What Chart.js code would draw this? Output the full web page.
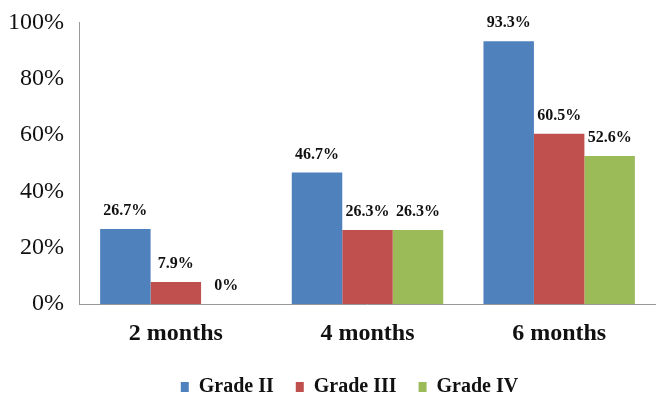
<!DOCTYPE html>
<html>
<head>
<meta charset="utf-8">
<script src="https://cdn.jsdelivr.net/npm/chart.js@4/dist/chart.umd.min.js"></script>
<style>
  body { margin: 0; background: #fff; }
</style>
</head>
<body>
<canvas id="myChart" width="660" height="393"></canvas>
<script>
const categories = ["2 months", "4 months", "6 months"];
const gradeII = [26.7, 46.7, 93.3];
const gradeIII = [7.9, 26.3, 60.5];
const gradeIV = [0, 26.3, 52.6];
const yTicks = [0, 20, 40, 60, 80, 100];

const serif = '"Liberation Serif", "Times New Roman", serif';

// draws the value above each bar
const valueLabels = {
  id: "valueLabels",
  afterDatasetsDraw(chart) {
    const ctx = chart.ctx;
    ctx.save();
    ctx.font = "bold 16px " + serif;
    ctx.fillStyle = "#111";
    ctx.textAlign = "center";
    ctx.textBaseline = "middle";
    chart.data.datasets.forEach((ds, i) => {
      chart.getDatasetMeta(i).data.forEach((bar, j) => {
        ctx.fillText(ds.data[j] + "%", bar.x, bar.y - 18);
      });
    });
    ctx.restore();
  }
};

// legend sits a bit right of centre in the original
const legendShift = {
  id: "legendShift",
  afterLayout(chart) {
    chart.legend.left += 22;
    chart.legend.right += 22;
  }
};

new Chart(document.getElementById("myChart"), {
  type: "bar",
  data: {
    labels: categories,
    datasets: [
      { label: "Grade II", data: gradeII, backgroundColor: "#4F81BD" },
      { label: "Grade III", data: gradeIII, backgroundColor: "#C0504D" },
      { label: "Grade IV", data: gradeIV, backgroundColor: "#9BBB59" }
    ]
  },
  options: {
    responsive: false,
    animation: false,
    layout: { padding: { top: 0, left: 0, right: 5, bottom: -14 } },
    datasets: { bar: { categoryPercentage: 0.79, barPercentage: 1.0 } },
    scales: {
      x: {
        grid: { display: false },
        border: { display: true, color: "#999" },
        ticks: { color: "#111", font: { family: serif, size: 24, weight: "bold" }, padding: 7 }
      },
      y: {
        min: 0,
        max: 100,
        afterBuildTicks: axis => { axis.ticks = yTicks.map(v => ({ value: v })); },
        grid: { display: false },
        border: { display: true, color: "#999" },
        ticks: { color: "#111", font: { family: serif, size: 24 }, padding: 8, callback: v => v + "%" }
      }
    },
    plugins: {
      legend: {
        position: "bottom",
        labels: {
          color: "#111",
          font: { family: serif, size: 20, weight: "bold" },
          boxWidth: 8,
          boxHeight: 10,
          padding: 22
        }
      },
      tooltip: { enabled: false }
    }
  },
  plugins: [valueLabels, legendShift]
});
</script>
</body>
</html>
